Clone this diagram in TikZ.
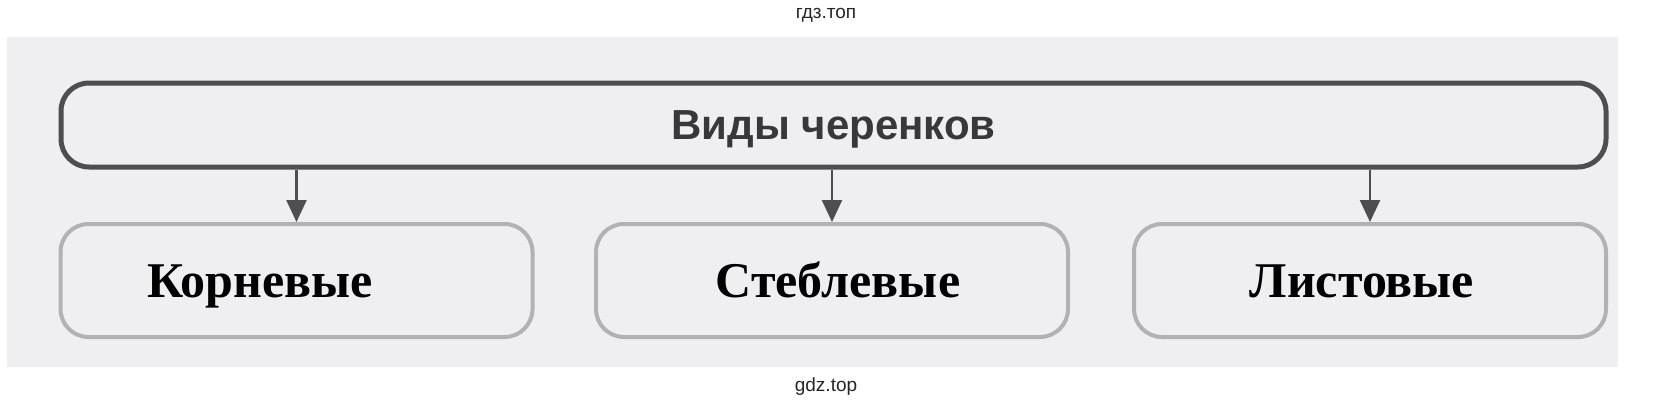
\documentclass[tikz,border=0pt]{standalone}
\usepackage{fontspec}
\setmainfont{Liberation Serif}
\newfontfamily\headfont{Liberation Sans}
\usetikzlibrary{arrows.meta}

\definecolor{paper}{RGB}{239,239,242}
\definecolor{ink}{RGB}{78,78,80}
\definecolor{rim}{RGB}{178,178,182}

\begin{document}
\begin{tikzpicture}[x=0.5pt,y=-0.5pt,
  head box/.style={draw=ink, line width=2.5pt, fill=paper,
    rounded corners=14pt, minimum width=772.5pt, minimum height=42pt,
    inner sep=0pt, text depth=0pt, text=black!78,
    font=\headfont\bfseries\fontsize{21pt}{25pt}\selectfont},
  kind box/.style={draw=rim, line width=2pt, fill=paper,
    rounded corners=14pt, minimum width=236pt, minimum height=56.5pt,
    inner sep=0pt},
  kind text/.style={anchor=base, inner sep=0pt,
    font=\bfseries\fontsize{25pt}{30pt}\selectfont},
  mark text/.style={font=\headfont\fontsize{9.5pt}{11pt}\selectfont,
    text=black!85},
  link/.style={draw=ink, line width=1.2pt,
    -{Triangle[length=11pt,width=10pt]}}
]
  \useasboundingbox (0,0) rectangle (1654,407);

  % paper
  \fill [paper] (7,37) rectangle (1618,367);

  % watermarks
  \node [mark text] (mark top) at (826,15) {гдз.топ};
  \node [mark text] (mark bottom) at (826,387) {gdz.top};

  % title
  \node [head box] (cuttings) at (833.5,125) {Виды черенков};

  % kinds
  \node [kind box] (root) at (296.5,280.5) {};
  \node [kind box] (stem) at (832,280.5) {};
  \node [kind box] (leaf) at (1370,280.5) {};

  \node [kind text] (root text) at (260,297) {Корневые};
  \node [kind text] (stem text) at (838,297) {Стеблевые};
  \node [kind text] (leaf text) at (1362,297) {Листовые};

  \foreach \kind in {root,stem,leaf}
    \draw [link] (\kind.north |- cuttings.south) -- (\kind.north);
\end{tikzpicture}
\end{document}
